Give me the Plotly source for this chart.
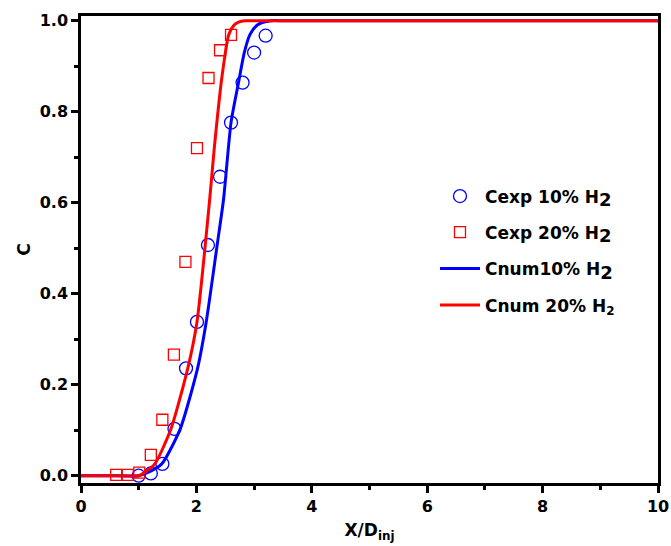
import plotly.graph_objects as go

# Experimental data
x_exp10 = [1.0, 1.21, 1.41, 1.62, 1.82, 2.01, 2.2, 2.41, 2.6, 2.8, 3.0, 3.2]
c_exp10 = [0.0, 0.005, 0.026, 0.103, 0.236, 0.338, 0.507, 0.657, 0.776, 0.864, 0.93, 0.967]

x_exp20 = [0.61, 0.81, 1.01, 1.21, 1.41, 1.61, 1.81, 2.01, 2.21, 2.41, 2.6]
c_exp20 = [0.002, 0.002, 0.007, 0.046, 0.123, 0.266, 0.47, 0.72, 0.874, 0.935, 0.969]

# Numerical curves
x_num10 = [0.0, 0.5, 1.0, 1.14, 1.4, 1.72, 2.02, 2.17, 2.36, 2.47, 2.6, 2.73, 2.83, 2.93, 3.05, 3.14, 3.3, 3.5, 5.0, 10.0]
c_num10 = [0.0, 0.0, 0.0, 0.006, 0.026, 0.103, 0.236, 0.338, 0.507, 0.607, 0.776, 0.864, 0.93, 0.97, 0.99, 0.996, 1.0, 1.0, 1.0, 1.0]

x_num20 = [0.0, 0.5, 1.0, 1.1, 1.28, 1.56, 1.85, 2.01, 2.23, 2.31, 2.44, 2.56, 2.65, 2.73, 2.85, 3.0, 5.0, 10.0]
c_num20 = [0.0, 0.0, 0.0, 0.007, 0.026, 0.103, 0.236, 0.338, 0.607, 0.72, 0.874, 0.969, 0.99, 0.997, 1.0, 1.0, 1.0, 1.0]

names = [
    "Cexp 10% H<sub><span style='font-size:18px'>2</span></sub>",
    "Cexp 20% H<sub><span style='font-size:18px'>2</span></sub>",
    "Cnum10% H<sub><span style='font-size:18px'>2</span></sub>",
    "Cnum 20% H<sub>2</sub>",
]

FONT = "DejaVu Sans"
BLUE = "#0000ff"
RED = "#ff0000"

fig = go.Figure()
fig.add_trace(go.Scatter(x=x_exp10, y=c_exp10, mode="markers", name=names[0], legend="legend",
                         marker=dict(symbol="circle-open", size=13, color=BLUE, line=dict(width=1.3))))
fig.add_trace(go.Scatter(x=x_exp20, y=c_exp20, mode="markers", name=names[1], legend="legend2",
                         marker=dict(symbol="square-open", size=11, color=RED, line=dict(width=1.3))))
fig.add_trace(go.Scatter(x=x_num10, y=c_num10, mode="lines", name=names[2], legend="legend3",
                         line=dict(color=BLUE, width=3, shape="spline", smoothing=0.6)))
fig.add_trace(go.Scatter(x=x_num20, y=c_num20, mode="lines", name=names[3], legend="legend4",
                         line=dict(color=RED, width=3, shape="spline", smoothing=0.6)))

axis_common = dict(
    showline=True, linecolor="black", linewidth=2.5, mirror=True,
    ticks="outside", tickwidth=2.5, ticklen=7, tickcolor="black",
    showgrid=False, zeroline=False, automargin=False,
    tickfont=dict(family=FONT, size=16, color="black", weight="bold"),
)

fig.update_xaxes(range=[0, 10], dtick=2, tickformat="d",
                 minor=dict(ticks="outside", dtick=1, ticklen=4, tickwidth=2.5, tickcolor="black"),
                 title=dict(text="X/D<sub>inj</sub>", font=dict(family=FONT, size=17, color="black", weight="bold"), standoff=10),
                 **axis_common)
fig.update_yaxes(range=[-0.016, 1.0103], dtick=0.2, tickformat=".1f",
                 minor=dict(ticks="outside", dtick=0.1, ticklen=4, tickwidth=2.5, tickcolor="black"),
                 title=dict(text="C", font=dict(family=FONT, size=17, color="black", weight="bold"), standoff=5),
                 **axis_common)

leg_x = 0.6135
leg_ys = [0.6135, 0.5364, 0.4582, 0.3801]
leg_common = dict(x=leg_x, xanchor="left", yanchor="middle",
                  font=dict(family=FONT, size=17, color="black", weight="bold"),
                  bgcolor="rgba(0,0,0,0)", itemwidth=40)

fig.update_layout(
    width=671, height=546,
    margin=dict(l=81, r=13, t=16, b=63),
    paper_bgcolor="white", plot_bgcolor="white",
    font=dict(family=FONT, color="black"),
    legend=dict(y=leg_ys[0], **leg_common),
    legend2=dict(y=leg_ys[1], **leg_common),
    legend3=dict(y=leg_ys[2], **leg_common),
    legend4=dict(y=leg_ys[3], **leg_common),
    showlegend=True,
)

fig.write_html("out.html", config={"displayModeBar": False},
               post_script="document.body.style.margin='0';")
